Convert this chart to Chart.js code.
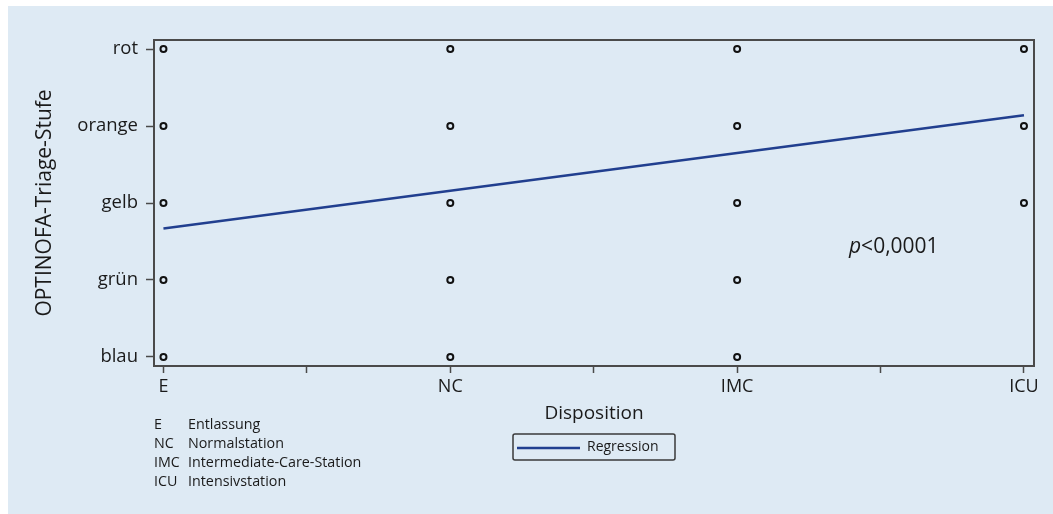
<!DOCTYPE html>
<html>
<head>
<meta charset="utf-8">
<script src="https://cdn.jsdelivr.net/npm/chart.js@4.4.1/dist/chart.umd.min.js"></script>
<style>
  html, body { margin: 0; padding: 0; background: #ffffff; }
  #wrap { position: relative; width: 1053px; height: 514px; }
</style>
</head>
<body>
<div id="wrap"><canvas id="c" width="1053" height="514"></canvas></div>
<script>
// Disposition categories (x) and OPTINOFA triage levels (y, lowest first)
const dispositions = ['E', 'NC', 'IMC', 'ICU'];
const triageLevels = ['blau', 'grün', 'gelb', 'orange', 'rot'];

// Observed triage levels (indices into triageLevels) for each disposition
const observedE   = [0, 1, 2, 3, 4];
const observedNC  = [0, 1, 2, 3, 4];
const observedIMC = [0, 1, 2, 3, 4];
const observedICU = [2, 3, 4];

// Fitted regression line: triage level at first and last disposition
const regressionX = [0, 3];
const regressionY = [1.67, 3.14];

const pValueText = '<0,0001';
const legendItems = [
  ['E', 'Entlassung'],
  ['NC', 'Normalstation'],
  ['IMC', 'Intermediate-Care-Station'],
  ['ICU', 'Intensivstation']
];

const FONT = '"Open Sans", "Noto Sans", sans-serif';
const INK = '#1a1a1a';
const FRAME = '#4a4a4a';
const LINE = '#213f8f';

const observed = [observedE, observedNC, observedIMC, observedICU];
const points = [];
observed.forEach((levels, xi) => levels.forEach(yi => points.push({ x: xi, y: yi })));
const regression = regressionX.map((x, i) => ({ x: x, y: regressionY[i] }));

const panelPlugin = {
  id: 'panel',
  beforeDraw(chart) {
    const ctx = chart.ctx;
    ctx.save();
    ctx.fillStyle = '#ffffff';
    ctx.fillRect(0, 0, chart.width, chart.height);
    ctx.fillStyle = '#deeaf4';
    ctx.fillRect(8, 6, chart.width - 8, chart.height - 6);
    ctx.restore();
  },
  afterDraw(chart) {
    const ctx = chart.ctx;
    const a = chart.chartArea;
    const xs = chart.scales.x, ys = chart.scales.y;
    ctx.save();
    // plot frame
    ctx.strokeStyle = FRAME;
    ctx.lineWidth = 2;
    ctx.strokeRect(a.left, a.top, a.right - a.left, a.bottom - a.top);

    // p-value annotation
    const px = xs.getPixelForValue(2.39), py = ys.getPixelForValue(1.43);
    ctx.fillStyle = INK;
    ctx.textBaseline = 'middle';
    ctx.textAlign = 'left';
    ctx.font = 'italic 21px ' + FONT;
    ctx.fillText('p', px, py);
    const pw = ctx.measureText('p').width;
    ctx.font = '21px ' + FONT;
    ctx.fillText(pValueText, px + pw, py);

    // abbreviation key
    ctx.font = '14.3px ' + FONT;
    legendItems.forEach((row, i) => {
      const y = 425 + i * 19;
      ctx.fillText(row[0], a.left, y);
      ctx.fillText(row[1], a.left + 34, y);
    });

    // legend box for the regression line
    const ds = chart.data.datasets[1];
    const lx = 513, ly = 434, lw = 162, lh = 26;
    ctx.strokeStyle = '#3a3a3a';
    ctx.lineWidth = 1.5;
    ctx.beginPath();
    ctx.roundRect(lx, ly, lw, lh, 2);
    ctx.stroke();
    ctx.strokeStyle = ds.borderColor;
    ctx.lineWidth = ds.borderWidth;
    ctx.beginPath();
    ctx.moveTo(lx + 4, ly + 14);
    ctx.lineTo(lx + 67, ly + 14);
    ctx.stroke();
    ctx.fillStyle = INK;
    ctx.font = '14px ' + FONT;
    ctx.fillText(ds.label, lx + 74, ly + 13);
    ctx.restore();
  }
};

new Chart(document.getElementById('c'), {
  type: 'scatter',
  data: {
    datasets: [
      {
        label: 'Beobachtungen',
        data: points,
        pointStyle: 'circle',
        pointRadius: 3,
        pointBorderWidth: 2,
        pointBorderColor: '#111111',
        pointBackgroundColor: 'rgba(0,0,0,0)',
        order: 2
      },
      {
        label: 'Regression',
        type: 'line',
        data: regression,
        borderColor: LINE,
        borderWidth: 2.5,
        pointRadius: 0,
        fill: false,
        order: 1
      }
    ]
  },
  options: {
    responsive: false,
    animation: false,
    events: [],
    layout: { padding: { top: 40, right: 19, left: 0, bottom: 0 } },
    plugins: { legend: { display: false }, tooltip: { enabled: false } },
    scales: {
      x: {
        type: 'linear',
        min: -0.033,
        max: 3.035,
        afterFit(scale) { scale.height = 148; },
        afterBuildTicks(scale) {
          scale.ticks = [0, 0.5, 1, 1.5, 2, 2.5, 3].map(v => ({ value: v }));
        },
        grid: {
          drawOnChartArea: false,
          drawTicks: true,
          tickLength: 7,
          tickWidth: 1.5,
          tickColor: FRAME
        },
        border: { display: false },
        ticks: {
          autoSkip: false,
          maxRotation: 0,
          padding: 3,
          color: INK,
          font: { family: FONT, size: 18 },
          callback: v => Number.isInteger(v) ? dispositions[v] : ''
        },
        title: {
          display: true,
          text: 'Disposition',
          color: INK,
          font: { family: FONT, size: 19 },
          padding: { top: 0, bottom: 89 }
        }
      },
      y: {
        type: 'linear',
        min: -0.117,
        max: 4.117,
        afterFit(scale) { scale.width = 154; },
        afterBuildTicks(scale) {
          scale.ticks = triageLevels.map((_, i) => ({ value: i }));
        },
        grid: {
          drawOnChartArea: false,
          drawTicks: true,
          tickLength: 8,
          tickWidth: 1.5,
          tickColor: FRAME
        },
        border: { display: false },
        ticks: {
          autoSkip: false,
          padding: 8,
          color: INK,
          font: { family: FONT, size: 18.5 },
          callback: v => triageLevels[v]
        },
        title: {
          display: true,
          text: 'OPTINOFA-Triage-Stufe',
          color: INK,
          font: { family: FONT, size: 21 },
          padding: { top: 32, bottom: 0 }
        }
      }
    }
  },
  plugins: [panelPlugin]
});
</script>
</body>
</html>
